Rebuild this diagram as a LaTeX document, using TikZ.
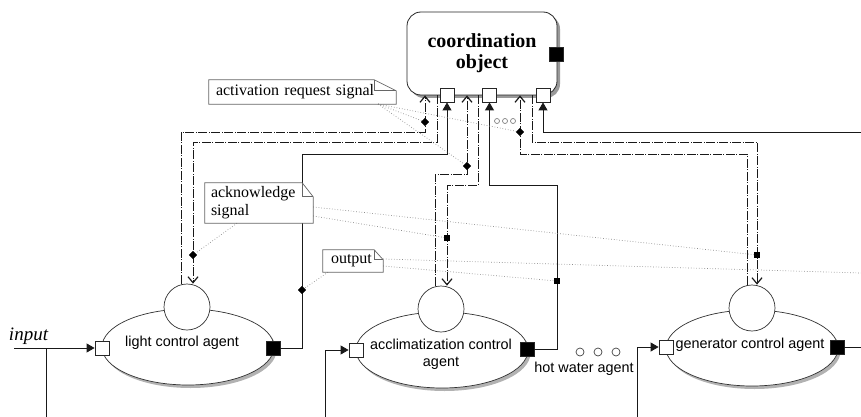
\documentclass[tikz,border=0pt]{standalone}
\usepackage{fontspec}
\setmainfont{Liberation Serif}
\newfontfamily\arialf{Liberation Sans}
\usetikzlibrary{arrows.meta,shapes.geometric,shadows,calc}
\newcommand\notefold[3]{%
  \draw[notebd] (#1.north west) -- ([xshift=-#2]#1.north east) -- ([yshift=-#3]#1.north east) -- (#1.south east) -- (#1.south west) -- cycle;
  \draw[notebd] ([xshift=-#2]#1.north east) -- ([xshift=-#2,yshift=-#3]#1.north east) -- ([yshift=-#3]#1.north east);}
\begin{document}
\begin{tikzpicture}[x=1pt,y=-1pt,
  wire/.style={draw=black!90, line width=0.9pt},
  dd/.style={wire, dash pattern=on 9pt off 1.5pt on 1pt off 1.5pt},
  openarr/.style={-{Straight Barb[length=6pt,width=10pt,line width=1.2pt]}},
  filarr/.style={-{Triangle[length=8pt,width=9pt]}},
  port/.style={draw=black!85, fill=white, minimum size=14pt, inner sep=0pt, line width=0.8pt},
  bport/.style={port, fill=black},
  agentell/.style={ellipse, draw=black!80, fill=white, minimum width=172pt, minimum height=76pt, inner sep=0pt, line width=0.7pt,
     drop shadow={shadow xshift=2.5pt, shadow yshift=-3pt, fill=black!30, opacity=1}},
  agentcirc/.style={circle, draw=black!80, fill=white, minimum size=46pt, inner sep=0pt, line width=0.7pt},
  note/.style={fill=white, inner ysep=0pt, font=\fontsize{16}{18}\selectfont, align=left},
  notebd/.style={draw=black!60, line width=0.7pt},
  ptr/.style={draw=black!45, dotted, line width=0.7pt},
  dia/.style={diamond, fill=black, inner sep=0pt, minimum size=8pt},
  sq/.style={rectangle, fill=black, inner sep=0pt, minimum size=6pt},
  agtxt/.style={font=\arialf\fontsize{14.4}{17}\selectfont, inner sep=0pt, align=center}]
\useasboundingbox (0,0) rectangle (861,417);

% coordination object
\node[draw=black!85, line width=0.8pt, rounded corners=14pt, minimum width=150pt, minimum height=83pt, fill=white,
  drop shadow={shadow xshift=3pt, shadow yshift=-3pt, fill=black!40, opacity=1},
  font=\bfseries\fontsize{20}{21}\selectfont, align=center] (co) at (482,53.5) {coordination\\object};
\node[bport] (pb) at (556,54) {};

% agents
\node[agentell] (le) at (188,347) {};
\node[agentcirc] (lc) at (187,307) {};
\node[agtxt] (lt) at (182,343) {light control agent};
\node[agentell] (ae) at (442,350) {};
\node[agentcirc] (acc) at (441,309) {};
\node[agtxt] (at) at (441,354) {acclimatization control\\agent};
\node[agentell] (ge) at (752,348) {};
\node[agentcirc] (gc) at (752,308) {};
\node[agtxt] (gt) at (750,345) {generator control agent};

% coordinates at the picture edges
\coordinate (inl) at (14,348);
\coordinate (inb) at (46,417);
\coordinate (ab) at (325,417);
\coordinate (gb) at (637,417);
\coordinate (rin) at (861,132);
\coordinate (rout) at (861,347);
\coordinate (rptr) at (861,273);

% pointer markers
\coordinate (n1s) at (378,104);
\node[dia] (da1) at (425,122) {};
\node[dia] (da2) at (467,166) {};
\node[dia] (da3) at (520,132) {};
\node[dia] (dk1) at (193,255) {};
\node[sq]  (dk2) at (447,238) {};
\node[sq]  (dk3) at (757,255) {};
\node[dia] (do1) at (302,290) {};
\node[sq]  (do2) at (557,281) {};

% wires: light control agent
\draw[dd,openarr] ([xshift=-6pt]lc.north) |- (425,132) -- (425,132 |- co.south);
\draw[dd,openarr] (437,0 |- co.south) |- (193,142) -- ([xshift=6pt]lc.north);
% acclimatization
\draw[dd,openarr] ([xshift=-6pt]acc.north) |- (467,174) -- (467,174 |- co.south);
\draw[dd,openarr] (478,0 |- co.south) |- (447,185) -- ([xshift=6pt]acc.north);
% generator
\draw[dd,openarr] ([xshift=-5pt]gc.north) |- (520,154) -- (520,154 |- co.south);
\draw[dd,openarr] (532,0 |- co.south) |- (757,142) -- ([xshift=5pt]gc.north);

% bottom ports of coordination object
\node[port] (p1) at (447,95) {};
\node[port] (p2) at (489.5,95) {};
\node[port] (p3) at (543,95) {};

% agent ports
\node[port] (lin) at (102,348) {};
\node[bport] (lout) at (273,348) {};
\node[port] (ain) at (356,350) {};
\node[bport] (aout) at (527,349) {};
\node[port] (gin) at (666,347) {};
\node[bport] (gout) at (837,347) {};

% solid outputs
\draw[wire,filarr] (lout.east) -| (302,154) -| (p1.south);
\draw[wire,filarr] (aout.east) -| (557,185) -| (p2.south);
\draw[wire,filarr] (rin) -| (p3.south);
\draw[wire] (gout.east) -- (rout);

% inputs
\draw[wire,filarr] (inl) -- (lin.west);
\draw[wire] (inb) -- (inb |- lin.west);
\draw[wire,filarr] (ab) |- (ain.west);
\draw[wire,filarr] (gb) |- (gin.west);
\node[font=\itshape\fontsize{19}{20}\selectfont, inner sep=0pt] (inp) at (28.5,336) {input};

% notes
\node[note, minimum width=187pt, minimum height=24pt, inner xsep=7pt, text width=173pt] (n1) at (302.5,92) {activation request signal};
\node[note, minimum width=108pt, minimum height=40pt, inner xsep=6pt, text width=96pt] (n2) at (259,203) {acknowledge\\signal};
\node[note, minimum width=60pt, minimum height=22pt, inner xsep=8pt, text width=44pt] (n3) at (353,261) {output};

\draw[ptr] (n1s) -- (da1);
\draw[ptr] (n1s) -- (da2);
\draw[ptr] (n1s) -- (da3);
\draw[ptr] ([yshift=-4pt]n2.east) -- (dk3);
\draw[ptr] ([yshift=-13pt]n2.east) -- (dk2);
\draw[ptr] ([xshift=-22pt]n2.south) -- (dk1);
\draw[ptr] ([yshift=2pt]n3.east) -- (rptr);
\draw[ptr] ([yshift=-5pt]n3.east) -- (do2);
\draw[ptr] ([xshift=-25pt]n3.south) -- (do1);

\notefold{n1}{22pt}{11pt}
\notefold{n2}{11pt}{14pt}
\notefold{n3}{9pt}{10pt}

% redraw pointer markers on top
\foreach \d in {da1,da2,da3,dk1,do1}{\node[dia] at (\d) {};}
\foreach \d in {dk2,dk3,do2}{\node[sq] at (\d) {};}

% ellipsis marks
\foreach \x in {497,505,513}{\draw[black!50, line width=0.7pt] (\x,121) circle[radius=2.5pt];}
\foreach \x in {580,598,616}{\draw[black!75, line width=0.7pt] (\x,352) circle[radius=4pt];}
\node[agtxt] (hw) at (584,369) {hot water agent};
\end{tikzpicture}
\end{document}
